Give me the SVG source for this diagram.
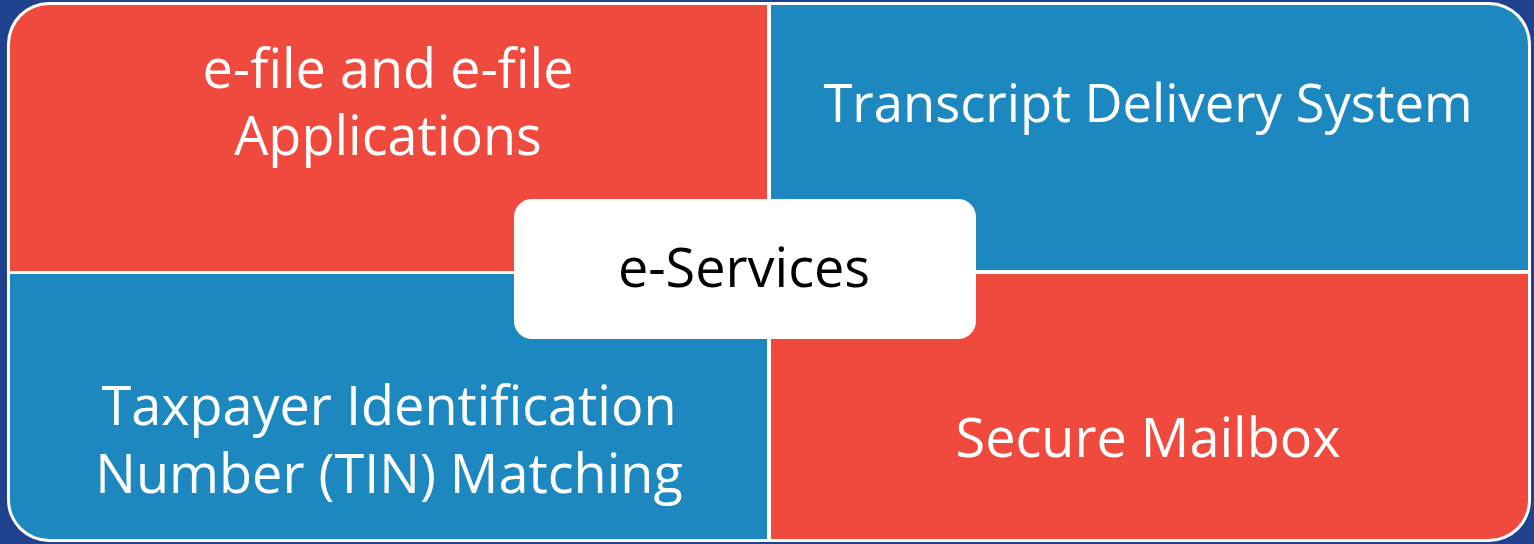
<svg xmlns="http://www.w3.org/2000/svg" width="1534" height="544" viewBox="0 0 1534 544">
<style>
.red{fill:#ef4a3d}
.blue{fill:#1d88bf}
.wt{fill:#ffffff;font-family:"Open Sans","Noto Sans",sans-serif;font-size:54px;text-anchor:middle}
.bt{fill:#000000;font-family:"Open Sans","Noto Sans",sans-serif;font-size:54px;text-anchor:middle}
</style>
<defs>
<clipPath id="inner"><rect x="10" y="5" width="1518" height="534" rx="39" ry="39"/></clipPath>
</defs>
<rect x="0" y="0" width="1534" height="544" fill="#1f418e"/>
<rect x="7" y="2" width="1524" height="540" rx="42" ry="42" fill="#ffffff"/>
<g clip-path="url(#inner)">
<g id="efile">
<rect class="red" x="10" y="5" width="757" height="266"/>
<text class="wt" x="388" y="88">e-file and e-file</text>
<text class="wt" x="388" y="155">Applications</text>
</g>
<g id="transcript">
<rect class="blue" x="771" y="5" width="757" height="265"/>
<text class="wt" x="1148" y="122" style="font-size:52.5px">Transcript Delivery System</text>
</g>
<g id="tin">
<rect class="blue" x="10" y="274" width="757" height="265"/>
<text class="wt" x="389" y="425">Taxpayer Identification</text>
<text class="wt" x="389" y="493">Number (TIN) Matching</text>
</g>
<g id="mailbox">
<rect class="red" x="771" y="274" width="757" height="265"/>
<text class="wt" x="1148" y="457">Secure Mailbox</text>
</g>
</g>
<g id="center">
<rect x="514" y="199" width="462" height="140" rx="18" ry="18" fill="#ffffff"/>
<text class="bt" x="744" y="287">e-Services</text>
</g>
<g id="connectors"></g>
</svg>
